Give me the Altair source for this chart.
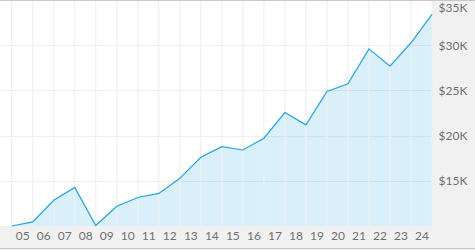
import altair as alt
import pandas as pd

years = list(range(2005, 2026))
values = [10000, 10450, 12850, 14270, 10050, 12190, 13150, 13600, 15270, 17600,
          18780, 18410, 19710, 22550, 21190, 24890, 25740, 29600, 27670, 30270, 33410]
label_years = [y + 0.5 for y in range(2005, 2025)]
y_ticks = [15000, 20000, 25000, 30000, 35000]

df = pd.DataFrame({"year": years, "value": values})
grid_df = pd.DataFrame({"year": years})

FONT = "Lato"
xscale = alt.Scale(domain=[2004.443, 2025], nice=False, zero=False)
yscale = alt.Scale(domain=[10000, 35000], nice=False, zero=False)

xaxis = alt.Axis(values=label_years, grid=False, domain=False, ticks=False,
                 labelExpr="substring(toString(floor(datum.value)), 2)",
                 labelPadding=4, title=None, labelFlush=False, labelOverlap=False)
yaxis = alt.Axis(values=y_ticks, orient="right", grid=True, gridColor="#f0f0f0",
                 gridWidth=1.2, domain=False, ticks=False,
                 labelExpr="'$' + (datum.value / 1000) + 'K'",
                 labelPadding=6, title=None, labelFlush=False,
                 labelBaseline=alt.condition("datum.value >= 35000", alt.value("top"), alt.value("middle")),
                 labelOffset=alt.condition("datum.value >= 35000", alt.value(2), alt.value(0)))

grid = alt.Chart(grid_df).mark_rule(color="#f0f0f0", strokeWidth=1.2).encode(
    x=alt.X("year:Q", scale=xscale, axis=xaxis)
)

area = alt.Chart(df).mark_area(color="#2aa4e2", opacity=0.18).encode(
    x=alt.X("year:Q", scale=xscale, axis=xaxis),
    y=alt.Y("value:Q", scale=yscale, axis=yaxis),
    y2=alt.datum(10000),
)
line = alt.Chart(df).mark_line(color="#22a2e2", strokeWidth=1.2).encode(
    x=alt.X("year:Q", scale=xscale, axis=xaxis),
    y=alt.Y("value:Q", scale=yscale, axis=yaxis),
)

top_border = alt.Chart(df).mark_rule(color="#c8c8c8", strokeWidth=1).encode(
    x=alt.value(0), x2=alt.value(475), y=alt.value(0.5)
)
bottom_border = alt.Chart(df).mark_rule(color="#c8c8c8", strokeWidth=1).encode(
    x=alt.value(0), x2=alt.value(475), y=alt.value(248.5)
)

chart = alt.layer(area, grid, line, top_border, bottom_border).properties(
    width=432, height=226,
    background="#f1f1f1",
    padding={"left": 0, "top": 0, "right": 43, "bottom": 24},
    autosize=alt.AutoSizeParams(type="none"),
).configure_view(fill="white", stroke=None).configure_axis(
    labelFont=FONT, labelFontSize=12, labelColor="#707070",
).configure_axisX(labelOverlap=False, labelFlush=False)

chart.save("out.html", embed_options={"renderer": "svg", "actions": False})
